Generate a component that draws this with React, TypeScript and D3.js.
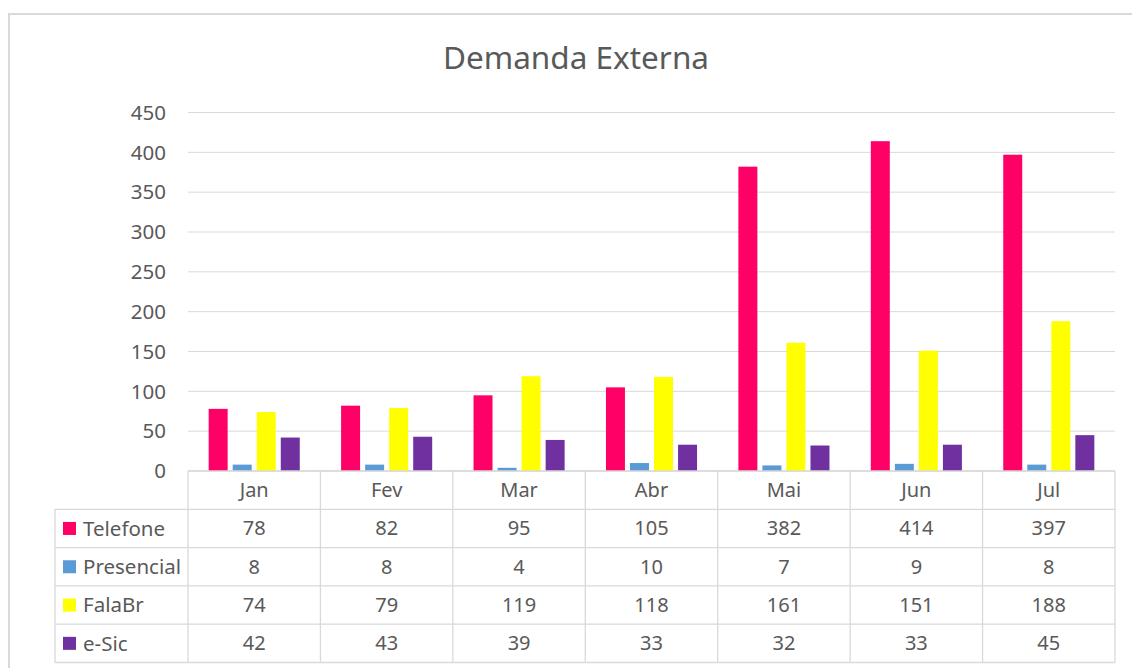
import React from "react";
import * as d3 from "d3";

const months = ["Jan", "Fev", "Mar", "Abr", "Mai", "Jun", "Jul"];
const seriesNames = ["Telefone", "Presencial", "FalaBr", "e-Sic"];
const seriesColors = ["#FF0066", "#5B9BD5", "#FFFF00", "#7030A0"];

const telefone = [78, 82, 95, 105, 382, 414, 397];
const presencial = [8, 8, 4, 10, 7, 9, 8];
const falabr = [74, 79, 119, 118, 161, 151, 188];
const esic = [42, 43, 39, 33, 32, 33, 45];

const yTicks = [0, 50, 100, 150, 200, 250, 300, 350, 400, 450];

const seriesValues = [telefone, presencial, falabr, esic];

export default function App() {
  const width = 1132;
  const height = 668;
  const font = "'Noto Sans', 'Open Sans', sans-serif";
  const textColor = "#595959";
  const lineColor = "#d9d9d9";

  const plotLeft = 188;
  const plotRight = 1115;
  const plotTop = 112.5;
  const plotBottom = 471;
  const rowH = 38.3;
  const tableLeft = 55;

  const x0 = d3.scaleBand<string>().domain(months).range([plotLeft, plotRight]);
  const x1 = d3
    .scaleBand<string>()
    .domain(seriesNames)
    .range([0, x0.bandwidth()])
    .paddingInner(0.21)
    .paddingOuter(0.86);
  const y = d3.scaleLinear().domain([0, 450]).range([plotBottom, plotTop]);

  const rowY = (i: number) => plotBottom + rowH * (i + 1);

  return (
    <svg
      width={width}
      height={height}
      style={{ position: "absolute", left: 0, top: 0, background: "#fff" }}
      fontFamily={font}
    >
      {/* outer chart frame, running off the right/bottom */}
      <rect x={9} y={14} width={1200} height={700} fill="#fff" stroke={lineColor} strokeWidth={2} />

      <text x={576} y={69} textAnchor="middle" fontSize={31.5} fill={textColor}>
        Demanda Externa
      </text>

      {/* gridlines + y labels */}
      <g>
        {yTicks.map((t) => (
          <g key={t}>
            <line x1={plotLeft} x2={plotRight} y1={y(t)} y2={y(t)} stroke={lineColor} strokeWidth={1} />
            <text x={166} y={y(t)} dy="0.35em" textAnchor="end" fontSize={20.5} fill={textColor}>
              {t}
            </text>
          </g>
        ))}
      </g>

      {/* bars */}
      <g>
        {seriesNames.map((s, si) => (
          <g key={s} fill={seriesColors[si]}>
            {months.map((m, mi) => (
              <rect
                key={m}
                x={(x0(m) as number) + (x1(s) as number)}
                y={y(seriesValues[si][mi])}
                width={x1.bandwidth()}
                height={plotBottom - y(seriesValues[si][mi])}
              />
            ))}
          </g>
        ))}
      </g>

      {/* data table */}
      <g stroke={lineColor} strokeWidth={1.3}>
        <line x1={plotLeft} x2={plotRight} y1={plotBottom} y2={plotBottom} />
        {seriesNames.map((s, i) => (
          <line key={s} x1={tableLeft} x2={plotRight} y1={rowY(i)} y2={rowY(i)} />
        ))}
        <line x1={tableLeft} x2={plotRight} y1={rowY(4)} y2={rowY(4)} />
        <line x1={tableLeft} x2={tableLeft} y1={rowY(0)} y2={rowY(4)} />
        {months.map((m) => (
          <line key={m} x1={x0(m)} x2={x0(m)} y1={plotBottom} y2={rowY(4)} />
        ))}
        <line x1={plotRight} x2={plotRight} y1={plotBottom} y2={rowY(4)} />
      </g>

      <g fontSize={20} fill={textColor} textAnchor="middle">
        {months.map((m) => (
          <text key={m} x={(x0(m) as number) + x0.bandwidth() / 2} y={plotBottom + rowH / 2} dy="0.35em">
            {m}
          </text>
        ))}
        {seriesNames.map((s, si) =>
          months.map((m, mi) => (
            <text
              key={s + m}
              x={(x0(m) as number) + x0.bandwidth() / 2}
              y={rowY(si) + rowH / 2}
              dy="0.35em"
            >
              {seriesValues[si][mi]}
            </text>
          ))
        )}
      </g>

      {/* legend keys inside the table */}
      {seriesNames.map((s, si) => (
        <g key={s}>
          <rect x={63} y={rowY(si) + rowH / 2 - 6.5} width={13} height={13} fill={seriesColors[si]} />
          <text x={83} y={rowY(si) + rowH / 2} dy="0.35em" fontSize={20.5} fill={textColor}>
            {s}
          </text>
        </g>
      ))}
    </svg>
  );
}
